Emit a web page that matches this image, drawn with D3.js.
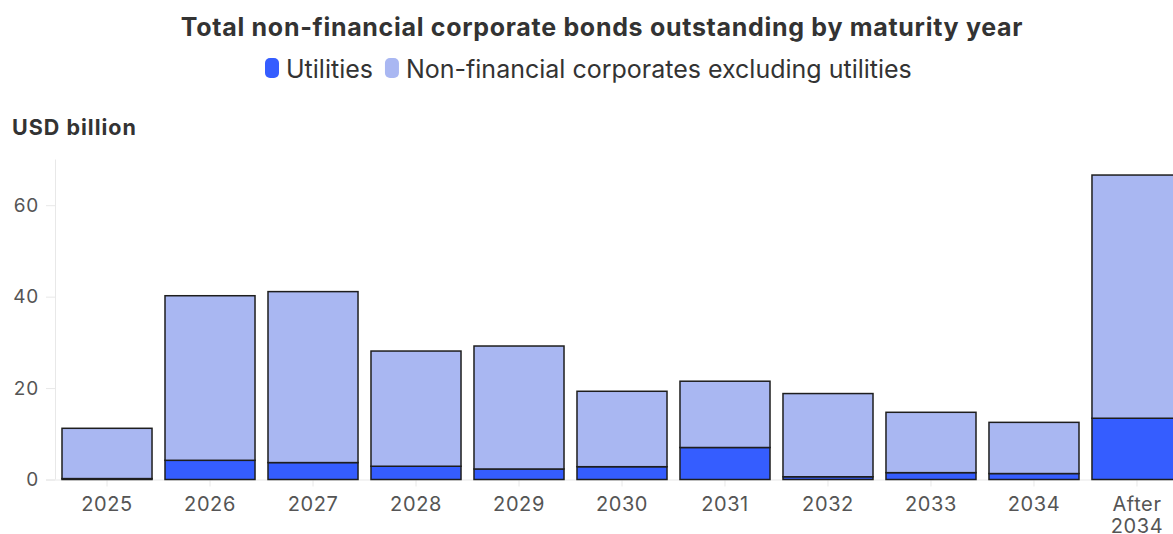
<!DOCTYPE html>
<html>
<head>
<meta charset="utf-8">
<script src="https://cdn.jsdelivr.net/npm/d3@7"></script>
<style>
  html, body { margin: 0; padding: 0; background: #fff; overflow: hidden; }
  svg { display: block; font-family: Inter, "Noto Sans", sans-serif; }
</style>
</head>
<body>
<svg id="chart" width="1173" height="534"></svg>
<script>
// Maturity buckets and amounts outstanding (USD billion)
const categories = ["2025", "2026", "2027", "2028", "2029", "2030", "2031", "2032", "2033", "2034", "After 2034"];
const utilities = [0.2, 4.2, 3.7, 2.9, 2.3, 2.8, 7.0, 0.6, 1.5, 1.3, 13.4];
const totals = [11.2, 40.2, 41.1, 28.1, 29.2, 19.3, 21.5, 18.8, 14.7, 12.5, 66.6];
const nonUtilities = totals.map((t, i) => +(t - utilities[i]).toFixed(1));
const seriesNames = ["Utilities", "Non-financial corporates excluding utilities"];
const yTicks = [0, 20, 40, 60];

const colors = { "Utilities": "#355dff", "Non-financial corporates excluding utilities": "#a9b7f2" };

const svg = d3.select("#chart");
const W = 1173;

const rows = categories.map((c, i) => ({
  cat: c,
  "Utilities": utilities[i],
  "Non-financial corporates excluding utilities": nonUtilities[i]
}));

const x = d3.scaleBand().domain(categories).range([55, 1189]).paddingInner(0.126).paddingOuter(0.068);
const y = d3.scaleLinear().domain([0, 70]).range([479.5, 159.5]);

// Title
svg.append("text")
  .attr("x", 602).attr("y", 36)
  .attr("text-anchor", "middle")
  .attr("font-size", 25).attr("font-weight", 700).attr("fill", "#333")
  .attr("letter-spacing", 0.7)
  .text("Total non-financial corporate bonds outstanding by maturity year");

// Legend
const legend = svg.append("g");
let lx = 265;
seriesNames.forEach(name => {
  const g = legend.append("g").attr("transform", `translate(${lx},0)`);
  g.append("rect").attr("x", 0).attr("y", 58).attr("width", 14).attr("height", 20).attr("rx", 5)
    .attr("fill", colors[name]);
  const t = g.append("text").attr("x", 21).attr("y", 77.5)
    .attr("font-size", 25).attr("fill", "#333").text(name);
  lx += 21 + t.node().getComputedTextLength() + 12;
});

// Axis title
svg.append("text").attr("x", 12).attr("y", 135)
  .attr("font-size", 21.5).attr("font-weight", 700).attr("fill", "#333")
  .attr("letter-spacing", 1)
  .text("USD billion");

// Y axis
const yAxis = svg.append("g").attr("transform", "translate(55,0)")
  .call(d3.axisLeft(y).tickValues(yTicks).tickSize(9).tickPadding(7));
yAxis.select(".domain").attr("stroke", "#e8e8e8").attr("d", `M0.5,${y(70)}V${y(0)}`);
yAxis.selectAll(".tick line").attr("stroke", "#e8e8e8");
yAxis.selectAll(".tick text").attr("font-size", 19).attr("fill", "#555")
  .attr("font-family", "Inter, sans-serif").attr("letter-spacing", 0.8);

// X axis
const xAxis = svg.append("g").attr("transform", `translate(0,${y(0)})`)
  .call(d3.axisBottom(x).tickSize(7).tickPadding(10));
xAxis.select(".domain").attr("stroke", "#e8e8e8").attr("d", `M46,0.5H${W}`);
xAxis.selectAll(".tick line").attr("stroke", "#e8e8e8");
xAxis.selectAll(".tick text").attr("font-size", 20).attr("fill", "#555")
  .attr("font-family", "Inter, sans-serif").attr("letter-spacing", 0.6)
  .each(function(d) {
    const words = d.split(" ");
    if (words.length > 1) {
      const t = d3.select(this).text(null);
      words.forEach((w, i) => {
        t.append("tspan").attr("x", 0).attr("dy", i === 0 ? "0.71em" : "1.12em").text(w);
      });
      t.attr("dy", null);
    }
  });

// Stacked bars
const stack = d3.stack().keys(seriesNames)(rows);
svg.append("g").selectAll("g").data(stack).join("g")
  .attr("fill", d => colors[d.key])
  .selectAll("rect").data(d => d.map(v => ({ v, cat: v.data.cat }))).join("rect")
  .attr("x", d => x(d.cat))
  .attr("width", x.bandwidth())
  .attr("y", d => y(d.v[1]))
  .attr("height", d => y(d.v[0]) - y(d.v[1]))
  .attr("stroke", "#1e1e1e").attr("stroke-width", 1.5);
</script>
</body>
</html>
